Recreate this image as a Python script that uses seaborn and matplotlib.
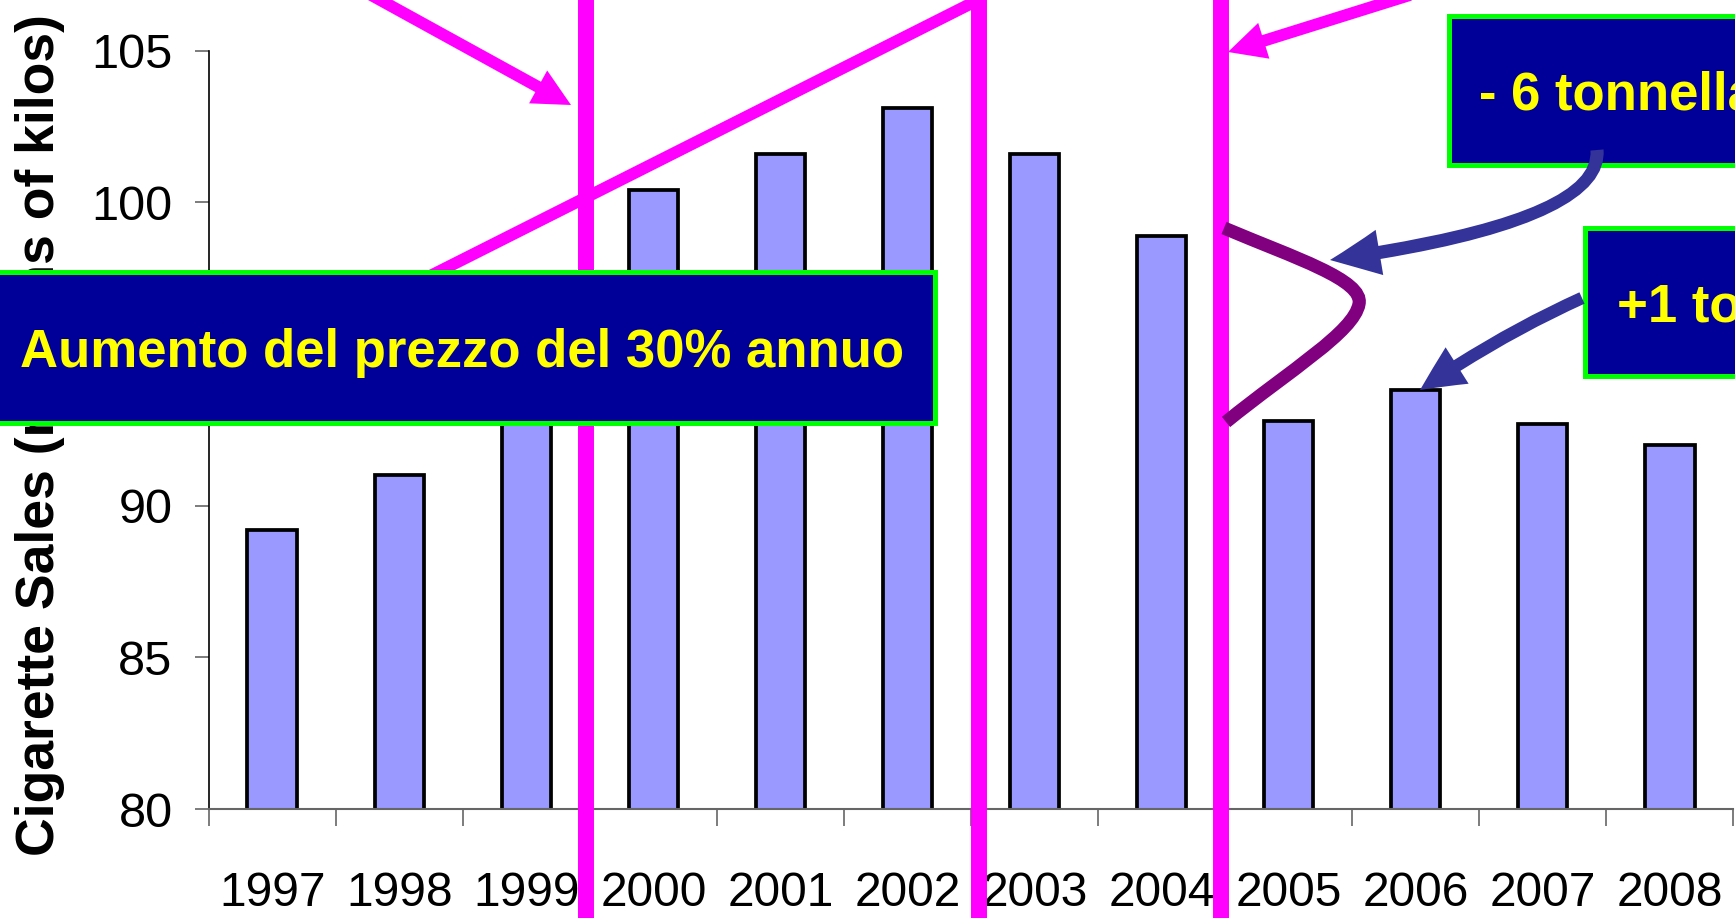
import matplotlib
matplotlib.use('Agg')
import numpy as np
import pandas as pd
import seaborn as sns
import matplotlib.pyplot as plt
from matplotlib import font_manager
from matplotlib.patches import Rectangle, FancyArrowPatch, PathPatch
from matplotlib.path import Path

# Data
years = ['1997', '1998', '1999', '2000', '2001', '2002',
         '2003', '2004', '2005', '2006', '2007', '2008']
sales = [89.2, 91.0, 96.0, 100.4, 101.6, 103.1,
         101.6, 98.9, 92.8, 93.8, 92.7, 92.0]
y_ticks = [80, 85, 90, 95, 100, 105]
# price-rise markers, in category units (between bars)
marker_pos = [2.47, 5.56, 7.47]
box_texts = ['Aumento del prezzo del 30% annuo', '- 6 tonnellate', '+1 tonnellata']


def pick_font(*names):
    for n in names:
        try:
            font_manager.findfont(font_manager.FontProperties(family=n), fallback_to_default=False)
            return n
        except ValueError:
            pass
    return 'DejaVu Sans'


sans = pick_font('Liberation Sans', 'Arial', 'DejaVu Sans')

sns.set_style('white')
plt.rcParams['font.family'] = [sans, 'DejaVu Sans']
plt.rcParams['text.color'] = 'black'
plt.rcParams['axes.labelcolor'] = 'black'
plt.rcParams['xtick.color'] = 'black'
plt.rcParams['ytick.color'] = 'black'

W, H = 1735, 918
fig = plt.figure(figsize=(W / 100, H / 100), dpi=100)
ax = fig.add_axes([208.7 / W, 109 / H, 1524.6 / W, 758.5 / H])

df = pd.DataFrame({'year': years, 'sales': sales})
sns.barplot(data=df, x='year', y='sales', color='#9999FF', saturation=1,
            width=0.39, edgecolor='black', linewidth=2.7, ax=ax)

ax.set_ylim(80, 105)
ax.set_xlim(-0.5, len(years) - 0.5)
ax.set_yticks(y_ticks)
ax.set_xlabel('')
ax.set_ylabel('Cigarette Sales (millions of kilos)', fontsize=38.5, fontweight='bold')
ax.yaxis.set_label_coords((40 - 208.7) / 1524.6, 0.493)
ax.yaxis.label.set_va('center')

for s in ['top', 'right']:
    ax.spines[s].set_visible(False)
ax.spines['left'].set_color('black')
ax.spines['left'].set_linewidth(1.2)
ax.spines['bottom'].set_color('#666666')
ax.spines['bottom'].set_linewidth(1.5)

# excel style: ticks between categories
ax.set_xticks(np.arange(-0.5, len(years), 1), minor=True)
ax.tick_params(bottom=True, left=True, which='both')
ax.tick_params(axis='x', which='major', length=0, pad=45, labelsize=34.5)
ax.tick_params(axis='x', which='minor', length=12.5, width=1.2, color='#666666')
ax.tick_params(axis='y', length=10, width=1.2, color='#666666', labelcolor='black', pad=16, labelsize=35)

for xp in marker_pos:
    ax.axvline(xp, ymin=-0.2, ymax=1.1, color='#FF00FF', lw=11.5, clip_on=False, zorder=3)

# overlay in pixel coords for the annotations
ov = fig.add_axes([0, 0, 1, 1], zorder=5)
ov.set_xlim(0, W)
ov.set_ylim(H, 0)
ov.axis('off')

magenta = '#FF00FF'
navy = '#000099'
green = '#00FF00'
blue = '#333399'

# magenta arrows
head = 'simple,head_length=27,head_width=27,tail_width=8.5'
ov.add_patch(FancyArrowPatch((362, -10), (571, 105), arrowstyle=head,
                             mutation_scale=1, color=magenta, lw=0, shrinkA=0, shrinkB=0, zorder=2))
ov.plot([430, 986], [276, -4], color=magenta, lw=8.5, solid_capstyle='butt', zorder=2)
ov.add_patch(FancyArrowPatch((1410, -5), (1228, 52), arrowstyle=head,
                             mutation_scale=1, color=magenta, lw=0, shrinkA=0, shrinkB=0, zorder=2))

# purple bracket
bracket = Path([(1224, 228), (1295, 258), (1364, 280), (1359, 304),
                (1354, 332), (1290, 370), (1226, 422)],
               [Path.MOVETO, Path.CURVE4, Path.CURVE4, Path.CURVE4,
                Path.CURVE4, Path.CURVE4, Path.CURVE4])
ov.add_patch(PathPatch(bracket, fill=False, edgecolor='#800080', lw=9.5, capstyle='butt', zorder=3))

# boxes
ov.add_patch(Rectangle((-20, 271.5), 955, 151, fc=navy, ec=green, lw=3.6, zorder=4))
ov.add_patch(Rectangle((1448.5, 15.5), 400, 149, fc=navy, ec=green, lw=3.6, zorder=4))
ov.add_patch(Rectangle((1584.5, 227.5), 300, 148, fc=navy, ec=green, lw=3.6, zorder=4))
ov.text(20, 367, box_texts[0], color='#FFFF00', fontsize=38, fontweight='bold', va='baseline', ha='left', zorder=5)
ov.text(1479, 110, box_texts[1], color='#FFFF00', fontsize=38, fontweight='bold', va='baseline', ha='left', zorder=5)
ov.text(1617, 321, box_texts[2], color='#FFFF00', fontsize=38, fontweight='bold', va='baseline', ha='left', zorder=5)

# blue arrows from the boxes
arr1 = Path([(1597, 150), (1603, 222), (1330, 260)], [Path.MOVETO, Path.CURVE3, Path.CURVE3])
ov.add_patch(FancyArrowPatch(path=arr1, arrowstyle='simple,head_length=36,head_width=33,tail_width=9.5',
                             mutation_scale=1, color=blue, lw=0, zorder=6))
arr2 = Path([(1582, 298), (1500, 335), (1420, 390)], [Path.MOVETO, Path.CURVE3, Path.CURVE3])
ov.add_patch(FancyArrowPatch(path=arr2, arrowstyle='simple,head_length=32,head_width=31,tail_width=9',
                             mutation_scale=1, color=blue, lw=0, zorder=6))

fig.savefig('out.png', dpi=100)
